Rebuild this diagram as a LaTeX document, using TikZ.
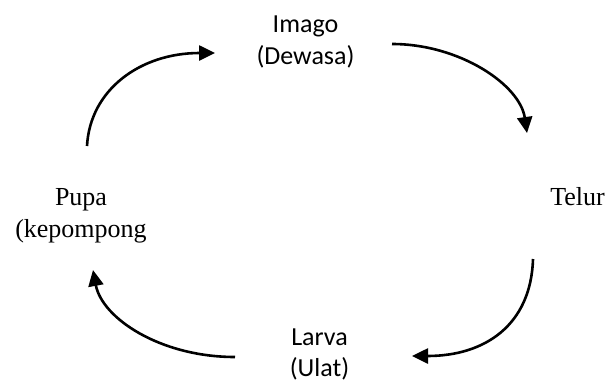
\documentclass[tikz,border=0pt]{standalone}
\usepackage{fontspec}
\setmainfont{Liberation Serif}
\newfontfamily\calfont{Carlito}
\usetikzlibrary{arrows.meta}
\tikzset{
  caltext/.style={font=\calfont\fontsize{26}{31}\selectfont, inner sep=0pt, anchor=base},
  sertext/.style={font=\fontsize{26}{31}\selectfont, inner sep=0pt, anchor=base},
  cyclearrow/.style={line width=2.6pt, -{Triangle[length=16pt,width=15pt]}}
}
\begin{document}
\begin{tikzpicture}[x=1pt,y=-1pt]
\useasboundingbox (0,0) rectangle (610,383);
% labels
\node[caltext] (imago) at (305.5,32.5) {Imago};
\node[caltext] (dewasa) at (305.5,64) {(Dewasa)};
\node[sertext] (telur) at (577.5,205) {Telur};
\node[caltext] (larva) at (319.5,345.5) {Larva};
\node[caltext] (ulat) at (319.5,376) {(Ulat)};
\node[sertext] (pupa) at (81,205) {Pupa};
\node[sertext] (kepompong) at (81,237) {(kepompong};
% arrow end points
\coordinate (a1s) at (87,146);  \coordinate (a1e) at (215,53);
\coordinate (a2s) at (392,44);  \coordinate (a2e) at (527,133);
\coordinate (a3s) at (533,259); \coordinate (a3e) at (412,356);
\coordinate (a4s) at (235,357); \coordinate (a4e) at (93,270);
% arrows
\draw[cyclearrow] (a1s) .. controls (90,90) and (140,53) .. (a1e);
\draw[cyclearrow] (a2s) .. controls (460,44) and (520,85) .. (a2e);
\draw[cyclearrow] (a3s) .. controls (531,325) and (485,356) .. (a3e);
\draw[cyclearrow] (a4s) .. controls (160,357) and (102,318) .. (a4e);
\end{tikzpicture}
\end{document}
